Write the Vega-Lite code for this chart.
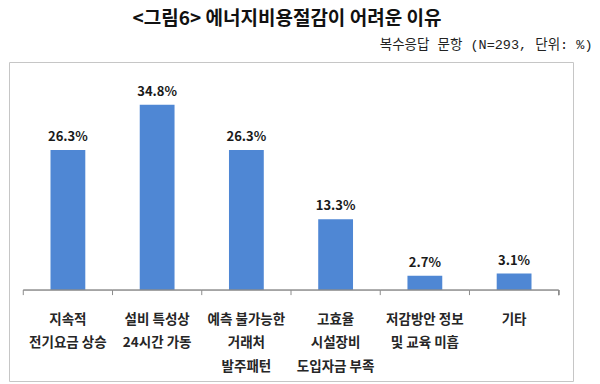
{
  "$schema": "https://vega.github.io/schema/vega-lite/v6.json",
  "width": 564,
  "height": 319,
  "autosize": {"type": "none"},
  "padding": {"left": 9, "top": 62, "right": 27, "bottom": 3},
  "background": "white",
  "title": {
    "text": "<그림6> 에너지비용절감이 어려운 이유",
    "anchor": "middle",
    "font": "Noto Sans CJK KR",
    "fontSize": 19,
    "fontWeight": "bold",
    "color": "#111111",
    "dx": -4,
    "offset": 8
  },
  "config": {
    "view": {"stroke": "#c6c6c6", "strokeWidth": 1},
    "font": "Noto Sans CJK KR"
  },
  "data": {
    "values": [
      {"reason": "지속적 전기요금 상승", "lines": ["지속적", "전기요금 상승"], "value": 26.3, "text": "26.3%"},
      {"reason": "설비 특성상 24시간 가동", "lines": ["설비 특성상", "24시간 가동"], "value": 34.8, "text": "34.8%"},
      {"reason": "예측 불가능한 거래처 발주패턴", "lines": ["예측 불가능한", "거래처", "발주패턴"], "value": 26.3, "text": "26.3%"},
      {"reason": "고효율 시설장비 도입자금 부족", "lines": ["고효율", "시설장비", "도입자금 부족"], "value": 13.3, "text": "13.3%"},
      {"reason": "저감방안 정보 및 교육 미흡", "lines": ["저감방안 정보", "및 교육 미흡"], "value": 2.7, "text": "2.7%"},
      {"reason": "기타", "lines": ["기타"], "value": 3.1, "text": "3.1%"}
    ]
  },
  "encoding": {
    "x": {
      "field": "reason",
      "type": "nominal",
      "sort": null,
      "scale": {"paddingInner": 0, "paddingOuter": 0.16},
      "axis": null
    },
    "y": {
      "field": "value",
      "type": "quantitative",
      "scale": {"domain": [-17.07, 42.8], "nice": false, "zero": false},
      "axis": {
        "orient": "left",
        "domain": false,
        "ticks": false,
        "labels": false,
        "grid": false,
        "title": "복수응답 문항 (N=293, 단위: %)",
        "titleAngle": 0,
        "titleAlign": "right",
        "titleBaseline": "middle",
        "titleX": 583,
        "titleY": -18,
        "titleFont": "Liberation Mono, Noto Sans CJK KR",
        "titleFontSize": 13.5,
        "titleFontWeight": "normal",
        "titleColor": "#222222"
      }
    }
  },
  "layer": [
    {
      "mark": {"type": "bar", "color": "#4f87d4", "width": {"band": 0.39}},
      "encoding": {"y2": {"datum": 0}}
    },
    {
      "mark": {"type": "bar", "fill": null, "stroke": "#8c8c8c", "strokeWidth": 1},
      "encoding": {"y": {"datum": 0}, "y2": {"datum": 0}}
    },
    {
      "mark": {"type": "rule", "color": "#8c8c8c", "strokeWidth": 1},
      "encoding": {
        "x": {"field": "reason", "type": "nominal", "sort": null, "bandPosition": 0},
        "y": {"datum": 0},
        "y2": {"datum": -0.95}
      }
    },
    {
      "mark": {"type": "rule", "color": "#8c8c8c", "strokeWidth": 1},
      "encoding": {
        "x": {"datum": "기타", "type": "nominal", "bandPosition": 1},
        "y": {"datum": 0},
        "y2": {"datum": -0.95}
      }
    },
    {
      "mark": {"type": "text", "font": "Noto Sans CJK KR", "fontSize": 13, "fontWeight": "bold", "color": "#1a1a1a", "baseline": "middle", "dy": -13},
      "encoding": {"text": {"field": "text"}}
    },
    {
      "mark": {"type": "text", "font": "Noto Sans CJK KR", "fontSize": 13.5, "fontWeight": "bold", "color": "#262626", "baseline": "middle", "lineHeight": 23.5},
      "encoding": {"y": {"datum": -5.6}, "text": {"field": "lines"}}
    }
  ]
}
